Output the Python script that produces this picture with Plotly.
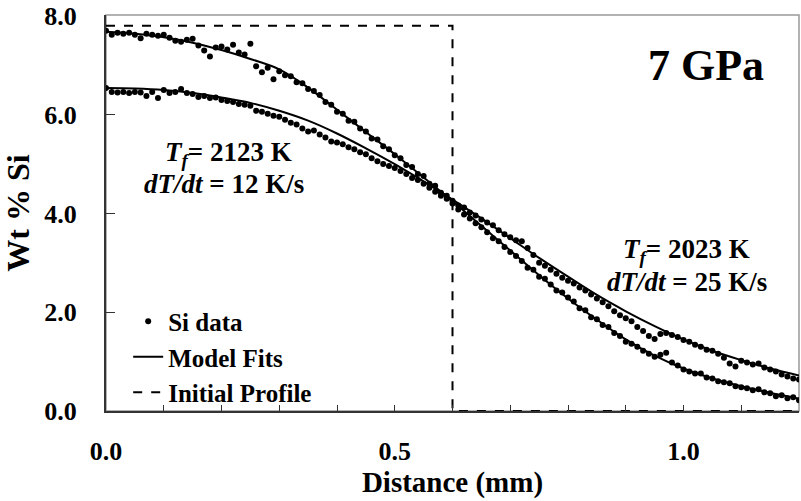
import plotly.graph_objects as go

# ---------------- data ----------------
x_data = [round(i * 0.01, 2) for i in range(121)]

si_a = [7.70, 7.62, 7.66, 7.64, 7.66, 7.62, 7.55, 7.64, 7.62, 7.60,
        7.62, 7.56, 7.50, 7.48, 7.52, 7.54, 7.40, 7.30, 7.18, 7.36,
        7.38, 7.32, 7.42, 7.26, 7.22, 7.44, 6.98, 6.86, 6.95, 6.72,
        6.88, 6.80, 6.78, 6.66, 6.64, 6.52, 6.48, 6.40, 6.26, 6.20,
        6.06, 6.02, 5.88, 5.86, 5.72, 5.66, 5.52, 5.50, 5.36, 5.30,
        5.18, 5.12, 4.98, 4.94, 4.80, 4.76, 4.60, 4.56, 4.42, 4.36,
        4.20, 4.08, 3.98, 3.90, 3.80, 3.72, 3.62, 3.50, 3.44, 3.32,
        3.22, 3.14, 3.04, 2.90, 2.86, 2.72, 2.68, 2.56, 2.44, 2.40,
        2.30, 2.22, 2.08, 2.04, 1.90, 1.86, 1.74, 1.70, 1.58, 1.52,
        1.40, 1.36, 1.30, 1.22, 1.16, 1.10, 1.14, 1.18, 0.98, 0.92,
        0.84, 0.80, 0.76, 0.76, 0.68, 0.66, 0.60, 0.58, 0.56, 0.50,
        0.48, 0.46, 0.42, 0.44, 0.38, 0.36, 0.30, 0.32, 0.26, 0.28, 0.22]

si_b = [6.54, 6.46, 6.45, 6.46, 6.44, 6.46, 6.45, 6.38, 6.46, 6.34,
        6.50, 6.44, 6.46, 6.52, 6.44, 6.42, 6.36, 6.38, 6.34, 6.35,
        6.30, 6.28, 6.26, 6.22, 6.20, 6.18, 6.08, 6.06, 6.02, 5.98,
        5.96, 5.90, 5.84, 5.80, 5.72, 5.66, 5.68, 5.60, 5.54, 5.46,
        5.44, 5.40, 5.34, 5.30, 5.24, 5.20, 5.12, 5.06, 5.00, 4.96,
        4.92, 4.86, 4.80, 4.72, 4.68, 4.60, 4.52, 4.44, 4.36, 4.30,
        4.26, 4.16, 4.12, 4.02, 3.96, 3.88, 3.82, 3.76, 3.66, 3.58,
        3.52, 3.46, 3.44, 3.30, 3.16, 3.00, 2.94, 2.86, 2.78, 2.70,
        2.64, 2.58, 2.50, 2.44, 2.36, 2.28, 2.20, 2.12, 2.02, 1.94,
        1.88, 1.82, 1.70, 1.62, 1.52, 1.46, 1.56, 1.58, 1.54, 1.50,
        1.44, 1.40, 1.34, 1.30, 1.24, 1.22, 1.16, 1.08, 0.96, 0.90,
        1.02, 0.98, 0.94, 0.96, 0.88, 0.84, 0.80, 0.74, 0.70, 0.66, 0.64]

x_fit = [round(i * 0.05, 2) for i in range(25)]
fit_a = [7.68, 7.64, 7.57, 7.46, 7.31, 7.13, 6.92, 6.55, 6.10, 5.65,
         5.20, 4.73, 4.25, 3.75, 3.25, 2.75, 2.28, 1.85, 1.45, 1.12,
         0.86, 0.66, 0.50, 0.37, 0.25]
fit_b = [6.54, 6.53, 6.50, 6.44, 6.35, 6.24, 6.08, 5.88, 5.62, 5.32,
         5.00, 4.65, 4.28, 3.90, 3.50, 3.10, 2.72, 2.35, 2.02, 1.72,
         1.45, 1.22, 1.03, 0.86, 0.72]

x_init = [0.0, 0.6, 0.6, 1.2]
y_init = [7.8, 7.8, 0.0, 0.0]

x_tickvals = [round(i * 0.1, 1) for i in range(13)]
x_ticktext = ["0.0", "", "", "", "", "0.5", "", "", "", "", "1.0", "", ""]
y_tickvals = [0, 2, 4, 6, 8]
y_ticktext = ["0.0", "2.0", "4.0", "6.0", "8.0"]

FONT = "Liberation Serif, Times New Roman, Times, serif"


def bf(size):
    return dict(family=FONT, color="black", weight="bold", size=size)


fig = go.Figure()

fig.add_trace(go.Scatter(x=x_data, y=si_a, mode="markers", name="Si data",
                         legendgroup="d", marker=dict(color="black", size=6)))
fig.add_trace(go.Scatter(x=x_data, y=si_b, mode="markers", name="Si data",
                         legendgroup="d", showlegend=False,
                         marker=dict(color="black", size=6)))
fig.add_trace(go.Scatter(x=x_fit, y=fit_a, mode="lines", name="Model Fits",
                         legendgroup="f", line=dict(color="black", width=2, shape="spline")))
fig.add_trace(go.Scatter(x=x_fit, y=fit_b, mode="lines", name="Model Fits",
                         legendgroup="f", showlegend=False,
                         line=dict(color="black", width=2, shape="spline")))
fig.add_trace(go.Scatter(x=x_init, y=y_init, mode="lines", name="Initial Profile",
                         line=dict(color="black", width=2, dash="dash")))

fig.update_layout(
    width=801, height=501,
    margin=dict(l=106, r=2, t=9, b=90),
    paper_bgcolor="white", plot_bgcolor="white",
    font=bf(26),
    showlegend=True,
    legend=dict(x=0.032, y=0.284, xanchor="left", yanchor="top",
                bgcolor="rgba(0,0,0,0)", font=bf(25),
                tracegroupgap=0, itemwidth=30),
    xaxis=dict(range=[0, 1.2], tickvals=x_tickvals, ticktext=x_ticktext,
               ticks="inside", ticklen=6, tickwidth=1, tickcolor="#333",
               showline=True, linecolor="#333", linewidth=2, showgrid=False,
               zeroline=False, ticklabelstandoff=16,
               tickfont=bf(26),
               title=dict(text="Distance (mm)", font=bf(29), standoff=4)),
    yaxis=dict(range=[0, 8.02], tickvals=y_tickvals, ticktext=y_ticktext,
               ticks="inside", ticklen=9, tickwidth=1, tickcolor="#333",
               showline=True, linecolor="#333", linewidth=2, showgrid=False,
               zeroline=False, ticklabelstandoff=22, ticklabeloverflow="allow",
               tickfont=bf(26),
               title=dict(text="Wt % Si", font=bf(32), standoff=10)),
    shapes=[dict(type="rect", xref="paper", yref="paper", x0=0, x1=1, y0=0, y1=1,
                 line=dict(color="#999", width=1.5), layer="below")],
    annotations=[
        dict(text="7 GPa", x=0.866, y=0.872, xref="paper", yref="paper",
             xanchor="center", yanchor="middle", showarrow=False, font=bf(44)),
        dict(text="<i>T<sub>f</sub></i>= 2123 K", x=0.177, y=0.648, xref="paper", yref="paper",
             xanchor="center", yanchor="middle", showarrow=False, font=bf(27)),
        dict(text="<i>dT/dt</i> = 12 K/s", x=0.170, y=0.574, xref="paper", yref="paper",
             xanchor="center", yanchor="middle", showarrow=False, font=bf(27)),
        dict(text="<i>T<sub>f</sub></i>= 2023 K", x=0.837, y=0.405, xref="paper", yref="paper",
             xanchor="center", yanchor="middle", showarrow=False, font=bf(27)),
        dict(text="<i>dT/dt</i> = 25 K/s", x=0.839, y=0.325, xref="paper", yref="paper",
             xanchor="center", yanchor="middle", showarrow=False, font=bf(27)),
    ],
)

fig.write_html("out.html")
